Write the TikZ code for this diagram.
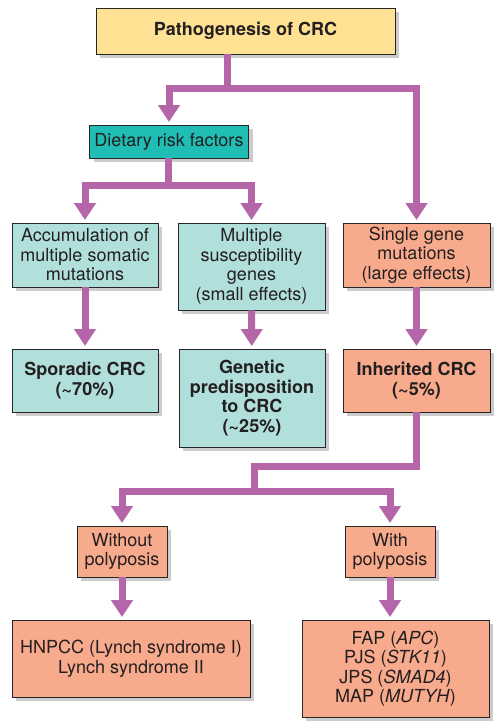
\documentclass[tikz,border=0pt]{standalone}
\usepackage{fontspec}
\setmainfont{TeX Gyre Heros}
\usetikzlibrary{arrows.meta,shadows}
\definecolor{crcyellow}{HTML}{FEE192}
\definecolor{crcteal}{HTML}{1FBDB4}
\definecolor{crclight}{HTML}{B0DFDC}
\definecolor{crcsalmon}{HTML}{F8AA8C}
\definecolor{crclink}{HTML}{B466A8}
\definecolor{crctext}{HTML}{231F20}
\begin{document}
\begin{tikzpicture}[x=1pt,y=-1pt,
	box/.style={draw=black!85,line width=0.9pt,rectangle,align=center,inner sep=2pt,
		text=crctext,font=\fontsize{18}{19.5}\selectfont,
		drop shadow={shadow xshift=4pt,shadow yshift=-4pt,fill=black,opacity=0.2}},
	link/.style={draw=crclink,line width=7pt},
	arrow/.style={link,-{Triangle[width=21pt,length=17pt]},shorten >=2.5pt}]
	\useasboundingbox (0,0) rectangle (498,724);

	% boxes
	\node[box,fill=crcyellow,minimum width=299pt,minimum height=46pt] (title) at (245.5,31) {\textbf{Pathogenesis of CRC}};
	\node[box,fill=crcteal,minimum width=159pt,minimum height=33pt] (diet) at (169,141.5) {Dietary risk factors};

	\node[box,fill=crclight,minimum width=146pt,minimum height=64pt] (accum) at (85,255) {Accumulation of\\multiple somatic\\mutations};
	\node[box,fill=crclight,minimum width=147pt,minimum height=87pt] (multi) at (251.5,266.5) {Multiple\\susceptibility\\genes\\(small effects)};
	\node[box,fill=crcsalmon,minimum width=147pt,minimum height=64pt] (single) at (416.5,255) {Single gene\\mutations\\(large effects)};

	\node[box,fill=crclight,minimum width=146pt,minimum height=63pt] (spor) at (85,380.5) {\textbf{Sporadic CRC}\\\textbf{(\textasciitilde70\%)}};
	\node[box,fill=crclight,minimum width=146pt,minimum height=98pt] (genet) at (252,398) {\textbf{Genetic}\\\textbf{predisposition}\\\textbf{to CRC}\\\textbf{(\textasciitilde25\%)}};
	\node[box,fill=crcsalmon,minimum width=147pt,minimum height=63pt] (inher) at (416.5,380.5) {\textbf{Inherited CRC}\\\textbf{(\textasciitilde5\%)}};

	\node[box,fill=crcsalmon,minimum width=90pt,minimum height=51pt] (without) at (122,551.5) {Without\\polyposis};
	\node[box,fill=crcsalmon,minimum width=90pt,minimum height=51pt] (with) at (390,551.5) {With\\polyposis};

	\node[box,fill=crcsalmon,minimum width=238pt,minimum height=77pt] (hnpcc) at (131,658.5) {HNPCC (Lynch syndrome I)\\Lynch syndrome II};
	\node[box,fill=crcsalmon,minimum width=187pt,minimum height=97pt] (fap) at (395.5,668.5) {FAP (\textit{APC})\\PJS (\textit{STK11})\\JPS (\textit{SMAD4})\\MAP (\textit{MUTYH})};

	% junctions
	\coordinate (j1) at (227,88);
	\coordinate (j2) at (168,185);
	\coordinate (k3) at (254,466);
	\coordinate (j3) at (254,491);

	% connectors
	\draw[link] (title.south -| j1) -- (j1);
	\draw[arrow] (j1) -| (diet);
	\draw[arrow] (j1) -| (single);

	\draw[link] (diet.south -| j2) -- (j2);
	\draw[arrow] (j2) -| (accum);
	\draw[arrow] (j2) -| (multi);

	\draw[arrow] (accum) -- (spor);
	\draw[arrow] (multi) -- (genet);
	\draw[arrow] (single) -- (inher);

	\draw[link] (inher) |- (k3) -- (j3);
	\draw[arrow] (j3) -| (without);
	\draw[arrow] (j3) -| (with);

	\draw[arrow] (without) -- (without |- hnpcc.north);
	\draw[arrow] (with) -- (with |- fap.north);
\end{tikzpicture}
\end{document}
